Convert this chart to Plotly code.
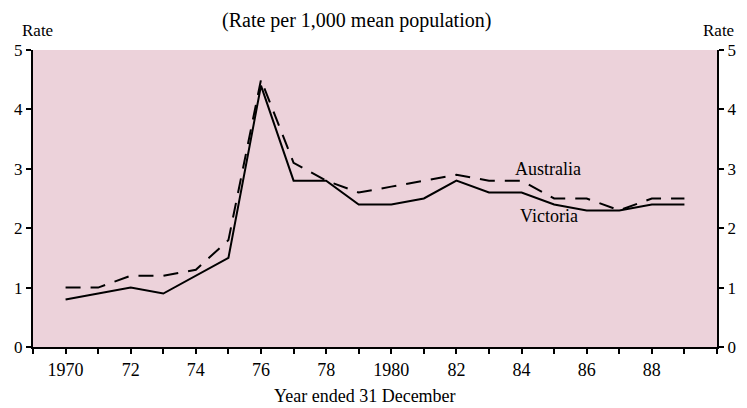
import plotly.graph_objects as go

years = list(range(1970, 1990))
victoria = [0.8, 0.9, 1.0, 0.9, 1.2, 1.5, 4.4, 2.8, 2.8, 2.4, 2.4, 2.5, 2.8, 2.6, 2.6, 2.4, 2.3, 2.3, 2.4, 2.4]
australia = [1.0, 1.0, 1.2, 1.2, 1.3, 1.8, 4.5, 3.1, 2.8, 2.6, 2.7, 2.8, 2.9, 2.8, 2.8, 2.5, 2.5, 2.3, 2.5, 2.5]
x_tickvals = list(range(1969, 1991))
x_ticktext = ["" if (y % 2 == 1 or y == 1990) else ("1970" if y == 1970 else ("1980" if y == 1980 else str(y)[2:])) for y in x_tickvals]
y_ticks = [0, 1, 2, 3, 4, 5]

FONT = "Liberation Serif"
L, R, T, B = 33, 30, 50, 61
W, H = 747, 408
pw, ph = W - L - R, H - T - B


def px(x, y):
    return (x - L) / pw, (H - B - y) / ph


fig = go.Figure()
fig.add_trace(go.Scatter(x=years, y=australia, mode="lines", name="Australia",
                         line=dict(color="black", width=2, dash="15px,10px")))
fig.add_trace(go.Scatter(x=years, y=victoria, mode="lines", name="Victoria",
                         line=dict(color="black", width=2)))
fig.add_trace(go.Scatter(x=[years[0]], y=[victoria[0]], yaxis="y2", mode="markers",
                         marker=dict(opacity=0), showlegend=False, hoverinfo="skip"))

axis_common = dict(showline=True, linecolor="black", linewidth=2, ticks="outside",
                   ticklen=5, tickwidth=2, tickcolor="black", showgrid=False, zeroline=False,
                   tickfont=dict(family=FONT, size=17))

ann = []
for text, x, y, size in [
    ("(Rate per 1,000 mean population)", 356, 21, 20),
    ("Rate", 37, 30, 17),
    ("Rate", 718, 31, 17),
    ("Year ended 31 December", 365, 396, 18),
]:
    ax, ay = px(x, y)
    ann.append(dict(text=text, x=ax, y=ay, xref="paper", yref="paper", xanchor="center",
                    yanchor="middle", showarrow=False, font=dict(size=size)))
ann.append(dict(text="Australia", x=1984.8, y=3.0, xref="x", yref="y", showarrow=False,
                font=dict(size=18)))
ann.append(dict(text="Victoria", x=1984.85, y=2.2, xref="x", yref="y", showarrow=False,
                font=dict(size=18)))

fig.update_layout(
    width=W, height=H,
    margin=dict(l=L, r=R, t=T, b=B, autoexpand=False),
    paper_bgcolor="white",
    plot_bgcolor="#ECD2DA",
    showlegend=False,
    font=dict(family=FONT, color="black", size=17),
    xaxis=dict(range=[1969, 1990], tickvals=x_tickvals, ticktext=x_ticktext,
               tickfont=dict(family=FONT, size=18),
               **{k: v for k, v in axis_common.items() if k != "tickfont"}),
    yaxis=dict(range=[0, 5], tickvals=y_ticks, **axis_common),
    yaxis2=dict(range=[0, 5], tickvals=y_ticks, overlaying="y", side="right", **axis_common),
    annotations=ann,
)

fig.write_html("out.html", config={"displayModeBar": False},
               post_script="document.body.style.margin='0';")
